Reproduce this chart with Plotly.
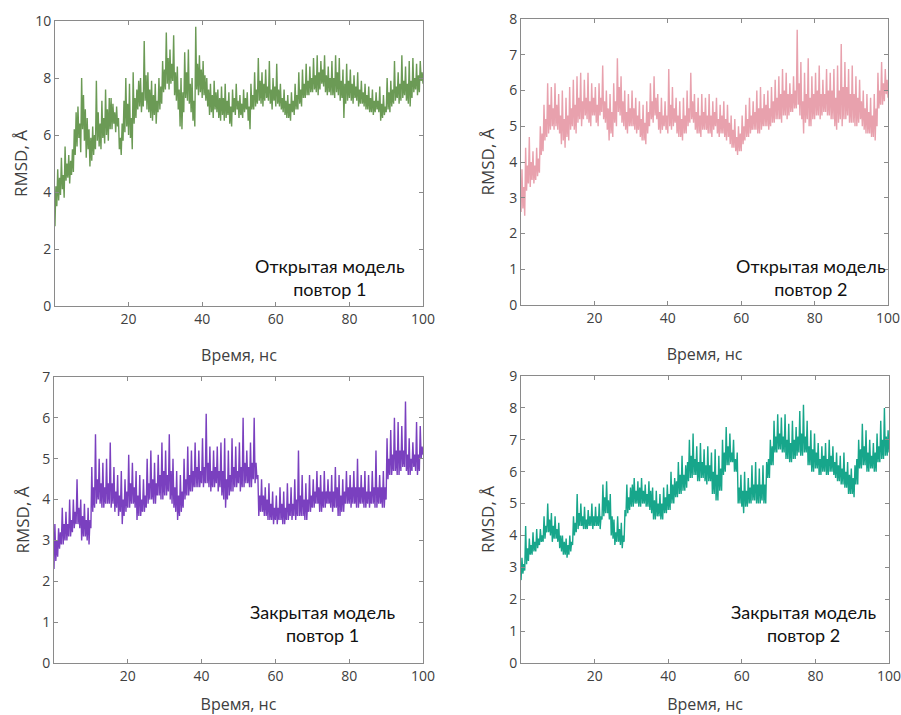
import plotly.graph_objects as go

# Time axis: samples every 0.25 ns from 0 to 100 ns
TIME_START = 0.0
TIME_STEP = 0.25

x_ticks = [20, 40, 60, 80, 100]

open_rep1_ticks = [0, 2, 4, 6, 8, 10]
open_rep2_ticks = [0, 1, 2, 3, 4, 5, 6, 7, 8]
closed_rep1_ticks = [0, 1, 2, 3, 4, 5, 6, 7]
closed_rep2_ticks = [0, 1, 2, 3, 4, 5, 6, 7, 8, 9]

open_rep1 = [2.8,
    4.2, 3.5, 4.8, 3.7, 4.5, 3.9, 5.2, 4.1, 4.6, 3.8, 5.6, 4.4, 5.0, 4.5, 5.3, 4.3, 5.1, 4.6, 5.5, 4.7,
    6.2, 5.3, 6.8, 5.6, 7.0, 5.9, 6.4, 5.4, 8.0, 6.2, 7.4, 5.8, 6.9, 5.2, 6.6, 5.5, 6.2, 4.9, 5.9, 5.1,
    6.3, 5.3, 6.0, 5.5, 7.9, 5.8, 6.8, 5.6, 6.4, 5.5, 7.2, 5.9, 6.6, 5.7, 7.6, 6.0, 6.9, 5.8, 7.3, 6.2,
    7.3, 6.2, 7.1, 6.4, 6.8, 6.1, 7.0, 6.3, 6.6, 5.5, 5.9, 5.3, 6.4, 5.8, 7.2, 6.1, 8.0, 6.3, 7.1, 6.0,
    7.8, 5.9, 6.6, 5.5, 8.2, 6.4, 7.3, 6.6, 7.6, 6.9, 7.9, 7.0, 8.0, 6.8, 7.5, 7.0, 9.3, 7.2, 8.1, 6.9,
    8.2, 6.8, 7.6, 6.6, 7.9, 6.5, 7.4, 6.7, 7.8, 6.4, 7.2, 6.8, 8.0, 6.9, 7.7, 7.1, 8.6, 7.5, 8.3, 7.6,
    9.6, 7.8, 8.7, 7.6, 9.0, 7.8, 8.5, 7.9, 9.5, 7.4, 8.2, 7.2, 8.4, 6.9, 7.6, 6.3, 8.0, 6.2, 7.5, 6.8,
    8.9, 7.3, 8.2, 7.2, 9.0, 7.1, 7.8, 6.8, 8.0, 6.5, 7.2, 6.3, 9.8, 7.6, 8.5, 7.4, 8.8, 7.5, 8.3, 7.3,
    8.6, 7.4, 8.1, 7.2, 8.0, 7.0, 7.6, 6.7, 7.8, 6.8, 7.4, 6.6, 7.9, 6.9, 7.5, 6.8, 7.6, 6.6, 7.3, 6.5,
    7.7, 6.7, 7.3, 6.5, 7.8, 6.6, 7.2, 6.7, 7.5, 6.4, 7.0, 6.3, 7.6, 6.8, 7.3, 6.7, 7.8, 6.9, 7.2, 6.6,
    7.4, 6.7, 7.1, 6.6, 7.6, 6.8, 7.3, 6.9, 7.5, 6.5, 7.0, 6.2, 7.8, 6.9, 7.4, 6.9, 8.2, 7.0, 7.6, 7.1,
    8.7, 7.2, 7.9, 7.1, 8.2, 7.0, 7.8, 7.2, 8.3, 7.3, 7.7, 7.2, 8.6, 7.1, 7.6, 6.9, 8.0, 7.2, 7.7, 7.0,
    8.5, 7.1, 7.6, 7.0, 7.8, 6.9, 7.3, 6.8, 7.6, 6.7, 7.2, 6.6, 7.4, 6.6, 7.1, 6.5, 7.5, 6.8, 7.2, 6.7,
    7.8, 6.9, 7.4, 6.9, 8.2, 7.1, 7.6, 7.0, 8.3, 7.3, 7.8, 7.3, 8.5, 7.4, 7.9, 7.4, 8.4, 7.5, 8.0, 7.5,
    8.7, 7.6, 8.1, 7.5, 8.8, 7.4, 8.2, 7.6, 8.6, 7.8, 8.3, 7.7, 8.8, 7.5, 8.1, 7.4, 8.4, 7.5, 8.0, 7.4,
    8.6, 7.4, 8.0, 7.3, 8.8, 7.5, 8.2, 7.4, 8.7, 7.2, 7.9, 7.3, 8.3, 6.6, 7.8, 7.1, 8.5, 7.2, 7.9, 7.3,
    8.3, 7.2, 7.8, 7.1, 8.1, 7.3, 7.7, 7.2, 8.2, 7.0, 7.6, 7.1, 7.9, 7.1, 7.5, 7.0, 7.8, 6.9, 7.4, 6.9,
    7.7, 6.8, 7.3, 6.8, 7.6, 6.7, 7.2, 6.8, 7.5, 6.9, 7.2, 6.8, 7.7, 6.5, 7.1, 6.6, 7.4, 6.7, 7.0, 6.8,
    8.0, 6.9, 7.5, 6.8, 7.9, 7.0, 7.6, 7.1, 8.6, 7.2, 7.7, 7.3, 8.2, 7.1, 7.8, 7.2, 8.8, 7.3, 7.9, 7.4,
    8.4, 7.2, 7.8, 7.1, 8.6, 7.0, 7.9, 7.3, 8.7, 7.5, 8.0, 7.6, 8.5, 7.4, 8.1, 7.5, 8.6, 7.9, 8.2, 7.8]

open_rep2 = [2.6,
    3.8, 2.7, 3.3, 2.5, 4.4, 3.2, 3.9, 3.4, 4.7, 3.3, 4.0, 3.5, 4.3, 3.4, 3.9, 3.5, 4.4, 3.6, 4.1, 3.7,
    5.0, 4.2, 4.8, 4.3, 5.6, 4.6, 5.2, 4.7, 6.2, 4.8, 5.6, 4.9, 6.1, 5.0, 5.5, 4.9, 6.2, 5.0, 5.6, 4.9,
    5.9, 4.8, 5.3, 4.5, 6.0, 4.6, 5.2, 4.4, 5.8, 4.7, 5.3, 4.6, 6.1, 4.9, 5.5, 5.0, 6.3, 4.9, 5.6, 4.8,
    6.4, 5.1, 5.8, 5.2, 6.5, 5.0, 5.7, 5.2, 6.3, 5.3, 5.8, 5.2, 6.5, 5.1, 5.7, 5.0, 6.2, 5.3, 5.8, 5.3,
    6.1, 5.1, 5.6, 5.0, 6.2, 5.3, 5.8, 5.4, 6.7, 5.2, 5.7, 5.1, 6.0, 4.9, 5.5, 4.6, 5.9, 4.8, 5.4, 4.7,
    6.2, 5.1, 5.7, 5.0, 6.9, 5.4, 6.1, 5.3, 6.4, 5.1, 5.7, 5.0, 6.0, 4.9, 5.4, 4.8, 5.9, 5.0, 5.5, 5.0,
    6.0, 5.0, 5.5, 4.9, 5.8, 4.8, 5.3, 4.9, 5.7, 4.7, 5.2, 4.6, 5.6, 4.6, 5.1, 4.5, 5.7, 4.8, 5.4, 5.0,
    6.2, 5.2, 5.7, 5.1, 6.4, 5.3, 5.8, 5.2, 5.9, 4.9, 5.4, 4.8, 5.8, 4.9, 5.3, 5.0, 5.7, 4.9, 5.3, 4.8,
    6.6, 5.0, 5.6, 4.9, 6.1, 5.0, 5.5, 5.1, 5.8, 4.8, 5.3, 4.7, 5.7, 4.7, 5.2, 4.6, 5.8, 4.8, 5.3, 4.8,
    6.0, 5.0, 5.5, 5.1, 6.5, 5.2, 5.7, 5.1, 5.9, 4.9, 5.4, 4.8, 5.8, 4.8, 5.3, 4.7, 5.9, 4.9, 5.4, 4.9,
    5.8, 4.9, 5.3, 4.8, 5.9, 4.8, 5.3, 4.7, 5.7, 4.9, 5.4, 5.0, 5.8, 4.8, 5.2, 4.7, 5.6, 4.8, 5.3, 4.8,
    5.7, 4.7, 5.2, 4.6, 5.6, 4.7, 5.1, 4.5, 5.3, 4.4, 4.9, 4.4, 5.2, 4.3, 4.7, 4.2, 5.0, 4.3, 4.8, 4.3,
    5.3, 4.5, 5.0, 4.6, 5.6, 4.7, 5.2, 4.7, 5.8, 4.8, 5.3, 4.9, 5.7, 4.9, 5.4, 4.9, 6.0, 4.8, 5.5, 4.8,
    6.1, 4.9, 5.5, 5.0, 5.9, 5.0, 5.6, 5.0, 6.0, 4.9, 5.5, 5.0, 6.1, 5.1, 5.7, 5.1, 6.3, 5.2, 5.8, 5.2,
    6.4, 5.2, 5.9, 5.1, 6.6, 5.3, 6.0, 5.3, 6.5, 5.2, 5.9, 5.3, 6.2, 5.4, 5.9, 5.4, 6.4, 5.5, 6.0, 5.5,
    7.7, 5.6, 6.2, 5.3, 6.8, 5.2, 5.7, 4.8, 6.5, 5.1, 5.9, 5.2, 6.9, 5.0, 5.8, 5.0, 6.4, 5.2, 5.9, 5.2,
    6.5, 5.3, 6.0, 5.3, 6.7, 5.2, 5.9, 5.3, 6.3, 5.4, 5.9, 5.4, 6.6, 5.3, 6.0, 5.3, 6.5, 5.2, 6.0, 5.2,
    6.6, 5.0, 5.8, 4.9, 6.7, 5.1, 6.0, 5.2, 7.3, 5.0, 6.1, 5.2, 6.8, 5.2, 6.1, 5.3, 6.6, 5.1, 5.9, 5.1,
    6.7, 5.1, 5.9, 5.0, 6.4, 5.0, 5.8, 5.1, 6.3, 5.2, 5.7, 5.0, 6.0, 4.9, 5.5, 4.8, 5.9, 4.8, 5.4, 4.8,
    5.8, 4.7, 5.3, 4.7, 5.9, 4.6, 5.5, 5.0, 6.5, 5.5, 6.0, 5.6, 6.8, 5.6, 6.2, 5.7, 6.6, 5.9, 6.3, 5.8]

closed_rep1 = [2.3,
    3.4, 2.5, 3.0, 2.6, 3.3, 2.8, 3.2, 2.9, 3.8, 2.9, 3.4, 3.0, 3.7, 3.0, 3.4, 3.1, 4.0, 3.1, 3.5, 3.2,
    4.0, 3.3, 3.7, 3.4, 4.5, 3.4, 3.8, 3.3, 4.0, 3.0, 3.6, 3.1, 3.9, 3.1, 3.5, 3.0, 3.8, 2.9, 3.5, 3.3,
    4.8, 3.7, 4.3, 3.8, 5.6, 3.9, 4.5, 4.0, 5.0, 3.9, 4.4, 3.8, 4.9, 3.8, 4.3, 3.9, 5.0, 3.9, 4.4, 3.9,
    5.4, 3.8, 4.4, 3.9, 4.8, 3.7, 4.2, 3.8, 4.6, 3.6, 4.1, 3.7, 4.7, 3.4, 4.0, 3.6, 4.5, 3.7, 4.2, 3.8,
    5.1, 3.8, 4.4, 3.9, 4.9, 3.9, 4.3, 3.8, 4.7, 3.5, 4.1, 3.6, 4.6, 3.6, 4.0, 3.7, 4.5, 3.7, 4.1, 3.8,
    5.0, 3.9, 4.4, 4.0, 5.2, 4.0, 4.5, 3.9, 4.9, 3.9, 4.4, 4.1, 5.1, 4.1, 4.6, 4.0, 5.4, 4.0, 4.7, 4.1,
    5.2, 4.1, 4.6, 4.2, 5.6, 4.0, 4.7, 3.9, 5.0, 3.8, 4.3, 3.7, 4.7, 3.5, 4.1, 3.6, 4.6, 3.7, 4.2, 3.8,
    5.0, 4.0, 4.5, 4.1, 5.3, 4.1, 4.6, 4.2, 5.2, 4.2, 4.7, 4.3, 5.4, 4.3, 4.8, 4.3, 5.2, 4.3, 4.7, 4.4,
    5.5, 4.3, 4.8, 4.4, 6.1, 4.4, 4.9, 4.3, 5.3, 4.2, 4.7, 4.3, 5.2, 4.3, 4.8, 4.4, 5.3, 4.2, 4.7, 4.3,
    5.4, 4.1, 4.7, 4.0, 5.5, 3.8, 4.5, 4.0, 5.2, 4.1, 4.6, 4.2, 5.5, 4.2, 4.8, 4.3, 5.3, 4.3, 4.7, 4.4,
    5.4, 4.2, 4.8, 4.3, 6.0, 4.3, 4.9, 4.4, 5.2, 4.4, 4.8, 4.3, 5.4, 4.3, 4.9, 4.5, 6.0, 4.4, 4.9, 4.5,
    4.6, 3.6, 4.1, 3.7, 4.5, 3.7, 4.1, 3.6, 4.3, 3.6, 4.0, 3.5, 4.4, 3.5, 3.9, 3.5, 4.2, 3.4, 3.8, 3.5,
    4.1, 3.4, 3.8, 3.5, 4.3, 3.5, 3.9, 3.4, 4.2, 3.4, 3.8, 3.5, 4.4, 3.5, 3.9, 3.6, 4.3, 3.5, 3.9, 3.6,
    4.5, 3.5, 4.0, 3.6, 5.2, 3.6, 4.1, 3.6, 4.6, 3.6, 4.0, 3.5, 4.4, 3.5, 4.0, 3.7, 4.6, 3.7, 4.1, 3.8,
    4.5, 3.8, 4.2, 3.9, 4.7, 3.9, 4.3, 3.7, 4.6, 3.7, 4.2, 3.8, 4.7, 3.8, 4.2, 3.9, 4.5, 3.9, 4.2, 3.8,
    4.6, 3.7, 4.2, 3.8, 4.8, 3.8, 4.3, 3.6, 4.6, 3.6, 4.1, 3.7, 4.5, 3.7, 4.2, 3.9, 4.7, 3.9, 4.3, 3.9,
    4.6, 3.8, 4.3, 3.9, 4.7, 3.9, 4.3, 3.8, 5.0, 3.8, 4.3, 3.9, 4.6, 3.9, 4.3, 3.8, 4.7, 3.8, 4.2, 3.9,
    4.6, 3.8, 4.2, 3.9, 4.7, 3.9, 4.3, 3.8, 5.2, 3.8, 4.3, 3.9, 4.6, 3.9, 4.3, 3.8, 4.7, 3.8, 4.3, 4.0,
    5.5, 4.5, 5.0, 4.6, 5.7, 4.6, 5.1, 4.7, 6.0, 4.7, 5.2, 4.6, 5.9, 4.6, 5.2, 4.7, 5.8, 4.8, 5.2, 4.8,
    6.4, 4.7, 5.1, 4.6, 5.5, 4.6, 5.0, 4.7, 5.4, 4.8, 5.1, 4.7, 5.9, 4.6, 5.1, 4.7, 5.8, 5.0, 5.3, 5.1]

closed_rep2 = [2.6,
    3.3, 2.8, 3.1, 2.9, 4.3, 3.1, 3.6, 3.2, 3.9, 3.4, 3.7, 3.4, 4.1, 3.5, 3.8, 3.5, 4.2, 3.6, 3.9, 3.7,
    4.2, 3.8, 4.0, 3.8, 4.6, 3.9, 4.3, 4.1, 5.0, 4.1, 4.5, 4.0, 4.7, 3.8, 4.3, 3.9, 4.6, 3.9, 4.2, 3.8,
    4.4, 3.6, 4.0, 3.5, 4.0, 3.4, 3.8, 3.4, 3.9, 3.3, 3.7, 3.4, 4.0, 3.5, 3.8, 3.7, 4.6, 4.0, 4.4, 4.1,
    5.3, 4.2, 4.7, 4.3, 5.0, 4.3, 4.6, 4.2, 4.9, 4.2, 4.5, 4.2, 4.8, 4.3, 4.6, 4.3, 5.0, 4.2, 4.6, 4.3,
    4.9, 4.3, 4.6, 4.3, 5.0, 4.2, 4.6, 4.5, 5.6, 4.6, 5.2, 4.7, 5.7, 4.7, 5.1, 4.5, 5.3, 4.0, 4.6, 3.9,
    4.5, 3.7, 4.1, 3.8, 4.6, 3.8, 4.2, 3.7, 4.4, 3.6, 4.0, 3.8, 4.8, 4.6, 5.6, 4.7, 5.2, 4.8, 5.5, 4.9,
    5.6, 4.9, 5.8, 5.0, 5.4, 5.0, 5.7, 4.9, 5.5, 4.9, 5.8, 5.0, 5.4, 5.0, 5.6, 4.9, 5.3, 4.9, 5.7, 4.8,
    5.4, 4.7, 5.5, 4.5, 5.1, 4.5, 5.4, 4.6, 5.0, 4.6, 5.3, 4.5, 5.0, 4.5, 5.5, 4.7, 5.2, 4.7, 5.6, 4.8,
    5.3, 4.8, 6.0, 5.0, 5.6, 5.0, 5.8, 5.2, 5.7, 5.2, 6.3, 5.3, 5.9, 5.3, 6.5, 5.4, 5.9, 5.4, 6.2, 5.5,
    6.3, 5.7, 7.0, 5.8, 6.5, 5.8, 7.2, 5.9, 6.4, 5.9, 6.8, 5.7, 6.3, 5.7, 6.9, 5.8, 6.3, 5.8, 6.7, 5.7,
    6.2, 5.6, 6.8, 5.7, 6.2, 5.7, 6.6, 5.3, 6.0, 5.3, 6.7, 5.1, 5.9, 5.1, 6.5, 5.4, 6.1, 5.4, 7.0, 5.9,
    6.6, 6.0, 7.4, 6.2, 6.8, 6.2, 7.2, 6.3, 6.6, 6.3, 7.0, 6.0, 6.4, 6.0, 6.6, 5.0, 5.5, 5.0, 5.9, 4.9,
    5.4, 4.7, 6.0, 4.9, 5.4, 4.9, 5.8, 5.0, 5.5, 5.0, 6.2, 5.1, 5.6, 5.1, 6.3, 5.0, 5.6, 5.0, 6.1, 5.0,
    5.6, 5.1, 6.2, 5.0, 5.6, 5.0, 6.3, 5.8, 6.4, 5.8, 7.0, 6.2, 6.8, 6.2, 7.6, 6.6, 7.1, 6.6, 7.8, 6.7,
    7.2, 6.7, 7.7, 6.6, 7.1, 6.6, 7.8, 6.4, 7.0, 6.4, 7.5, 6.3, 6.9, 6.3, 7.6, 6.4, 7.0, 6.4, 7.4, 6.5,
    7.1, 6.6, 7.9, 6.5, 7.2, 6.5, 8.1, 6.6, 7.1, 6.6, 7.6, 6.2, 6.8, 6.2, 7.3, 6.0, 6.7, 6.0, 7.2, 6.1,
    6.6, 6.1, 6.9, 5.9, 6.4, 5.9, 6.8, 6.0, 6.5, 6.0, 6.9, 5.9, 6.4, 5.9, 7.0, 6.0, 6.5, 6.0, 6.8, 5.9,
    6.3, 5.8, 6.6, 5.7, 6.2, 5.7, 6.5, 5.6, 6.1, 5.6, 6.6, 5.5, 6.0, 5.5, 6.3, 5.3, 5.9, 5.3, 6.1, 5.3,
    5.8, 5.2, 6.2, 5.6, 6.4, 5.6, 7.0, 6.1, 6.7, 6.1, 7.5, 6.2, 6.8, 6.2, 7.3, 6.0, 6.6, 6.0, 7.0, 6.1,
    6.5, 6.1, 6.9, 6.0, 6.6, 6.0, 7.2, 6.3, 6.8, 6.3, 7.6, 6.4, 7.0, 6.4, 8.0, 6.5, 7.1, 6.5, 7.3, 6.6]

panels = [
    dict(y=open_rep1, color="#6b9a55", ticks=open_rep1_ticks, ymax=10,
         label="Открытая модель<br>повтор 1", xstand=22, ystand=3,
         xdom=[0.0610, 0.4695], ydom=[0.5720, 0.9706], lab=(0.366, 0.612)),
    dict(y=open_rep2, color="#e8a1ad", ticks=open_rep2_ticks, ymax=8,
         label="Открытая модель<br>повтор 2", xstand=22, ystand=10,
         xdom=[0.5783, 0.9856], ydom=[0.5734, 0.9734], lab=(0.900, 0.612)),
    dict(y=closed_rep1, color="#7a40bf", ticks=closed_rep1_ticks, ymax=7,
         label="Закрытая модель<br>повтор 1", xstand=14, ystand=8,
         xdom=[0.0599, 0.4695], ydom=[0.0727, 0.4727], lab=(0.358, 0.128)),
    dict(y=closed_rep2, color="#17a68b", ticks=closed_rep2_ticks, ymax=9,
         label="Закрытая модель<br>повтор 2", xstand=14, ystand=10,
         xdom=[0.5783, 0.9867], ydom=[0.0727, 0.4741], lab=(0.892, 0.128)),
]

fig = go.Figure()
tick_font = dict(family="Open Sans, Arial, sans-serif", size=14, color="#404040")
xtitle_font = dict(family="Open Sans, Arial, sans-serif", size=16, color="#404040")
ytitle_font = dict(family="Open Sans, Arial, sans-serif", size=17, color="#404040")

for i, p in enumerate(panels, start=1):
    xa = "x" if i == 1 else f"x{i}"
    ya = "y" if i == 1 else f"y{i}"
    fig.add_trace(go.Scatter(
        x0=TIME_START, dx=TIME_STEP, y=p["y"], mode="lines",
        line=dict(color=p["color"], width=1.4),
        xaxis=xa, yaxis=ya, showlegend=False, hoverinfo="skip"))
    axis_common = dict(showline=True, linecolor="#8a8a8a", linewidth=1,
                       mirror="ticks", ticks="inside", ticklen=4,
                       tickcolor="#8a8a8a", showgrid=False, zeroline=False,
                       tickfont=tick_font, automargin=False,
                       ticklabeloverflow="allow")
    fig.update_layout(**{
        ("xaxis" if i == 1 else f"xaxis{i}"): dict(
            domain=p["xdom"], anchor=ya, range=[0, 100], tickvals=x_ticks,
            title=dict(text="Время, нс", font=xtitle_font, standoff=p["xstand"]),
            **axis_common),
        ("yaxis" if i == 1 else f"yaxis{i}"): dict(
            domain=p["ydom"], anchor=xa, range=[0, p["ymax"]], tickvals=p["ticks"],
            title=dict(text="RMSD, Å", font=ytitle_font, standoff=p["ystand"]),
            **axis_common),
    })
    fig.add_annotation(
        text=p["label"], xref="paper", yref="paper", x=p["lab"][0], y=p["lab"][1],
        xanchor="center", yanchor="middle", showarrow=False, align="center",
        font=dict(family="Lato, Open Sans, sans-serif", size=18, color="#111111"))

fig.update_layout(
    width=901, height=715, margin=dict(l=0, r=0, t=0, b=0),
    paper_bgcolor="white", plot_bgcolor="white",
)

fig.write_html(
    "out.html",
    config={"displayModeBar": False},
    post_script="document.body.style.margin='0';document.body.style.overflow='hidden';",
)
